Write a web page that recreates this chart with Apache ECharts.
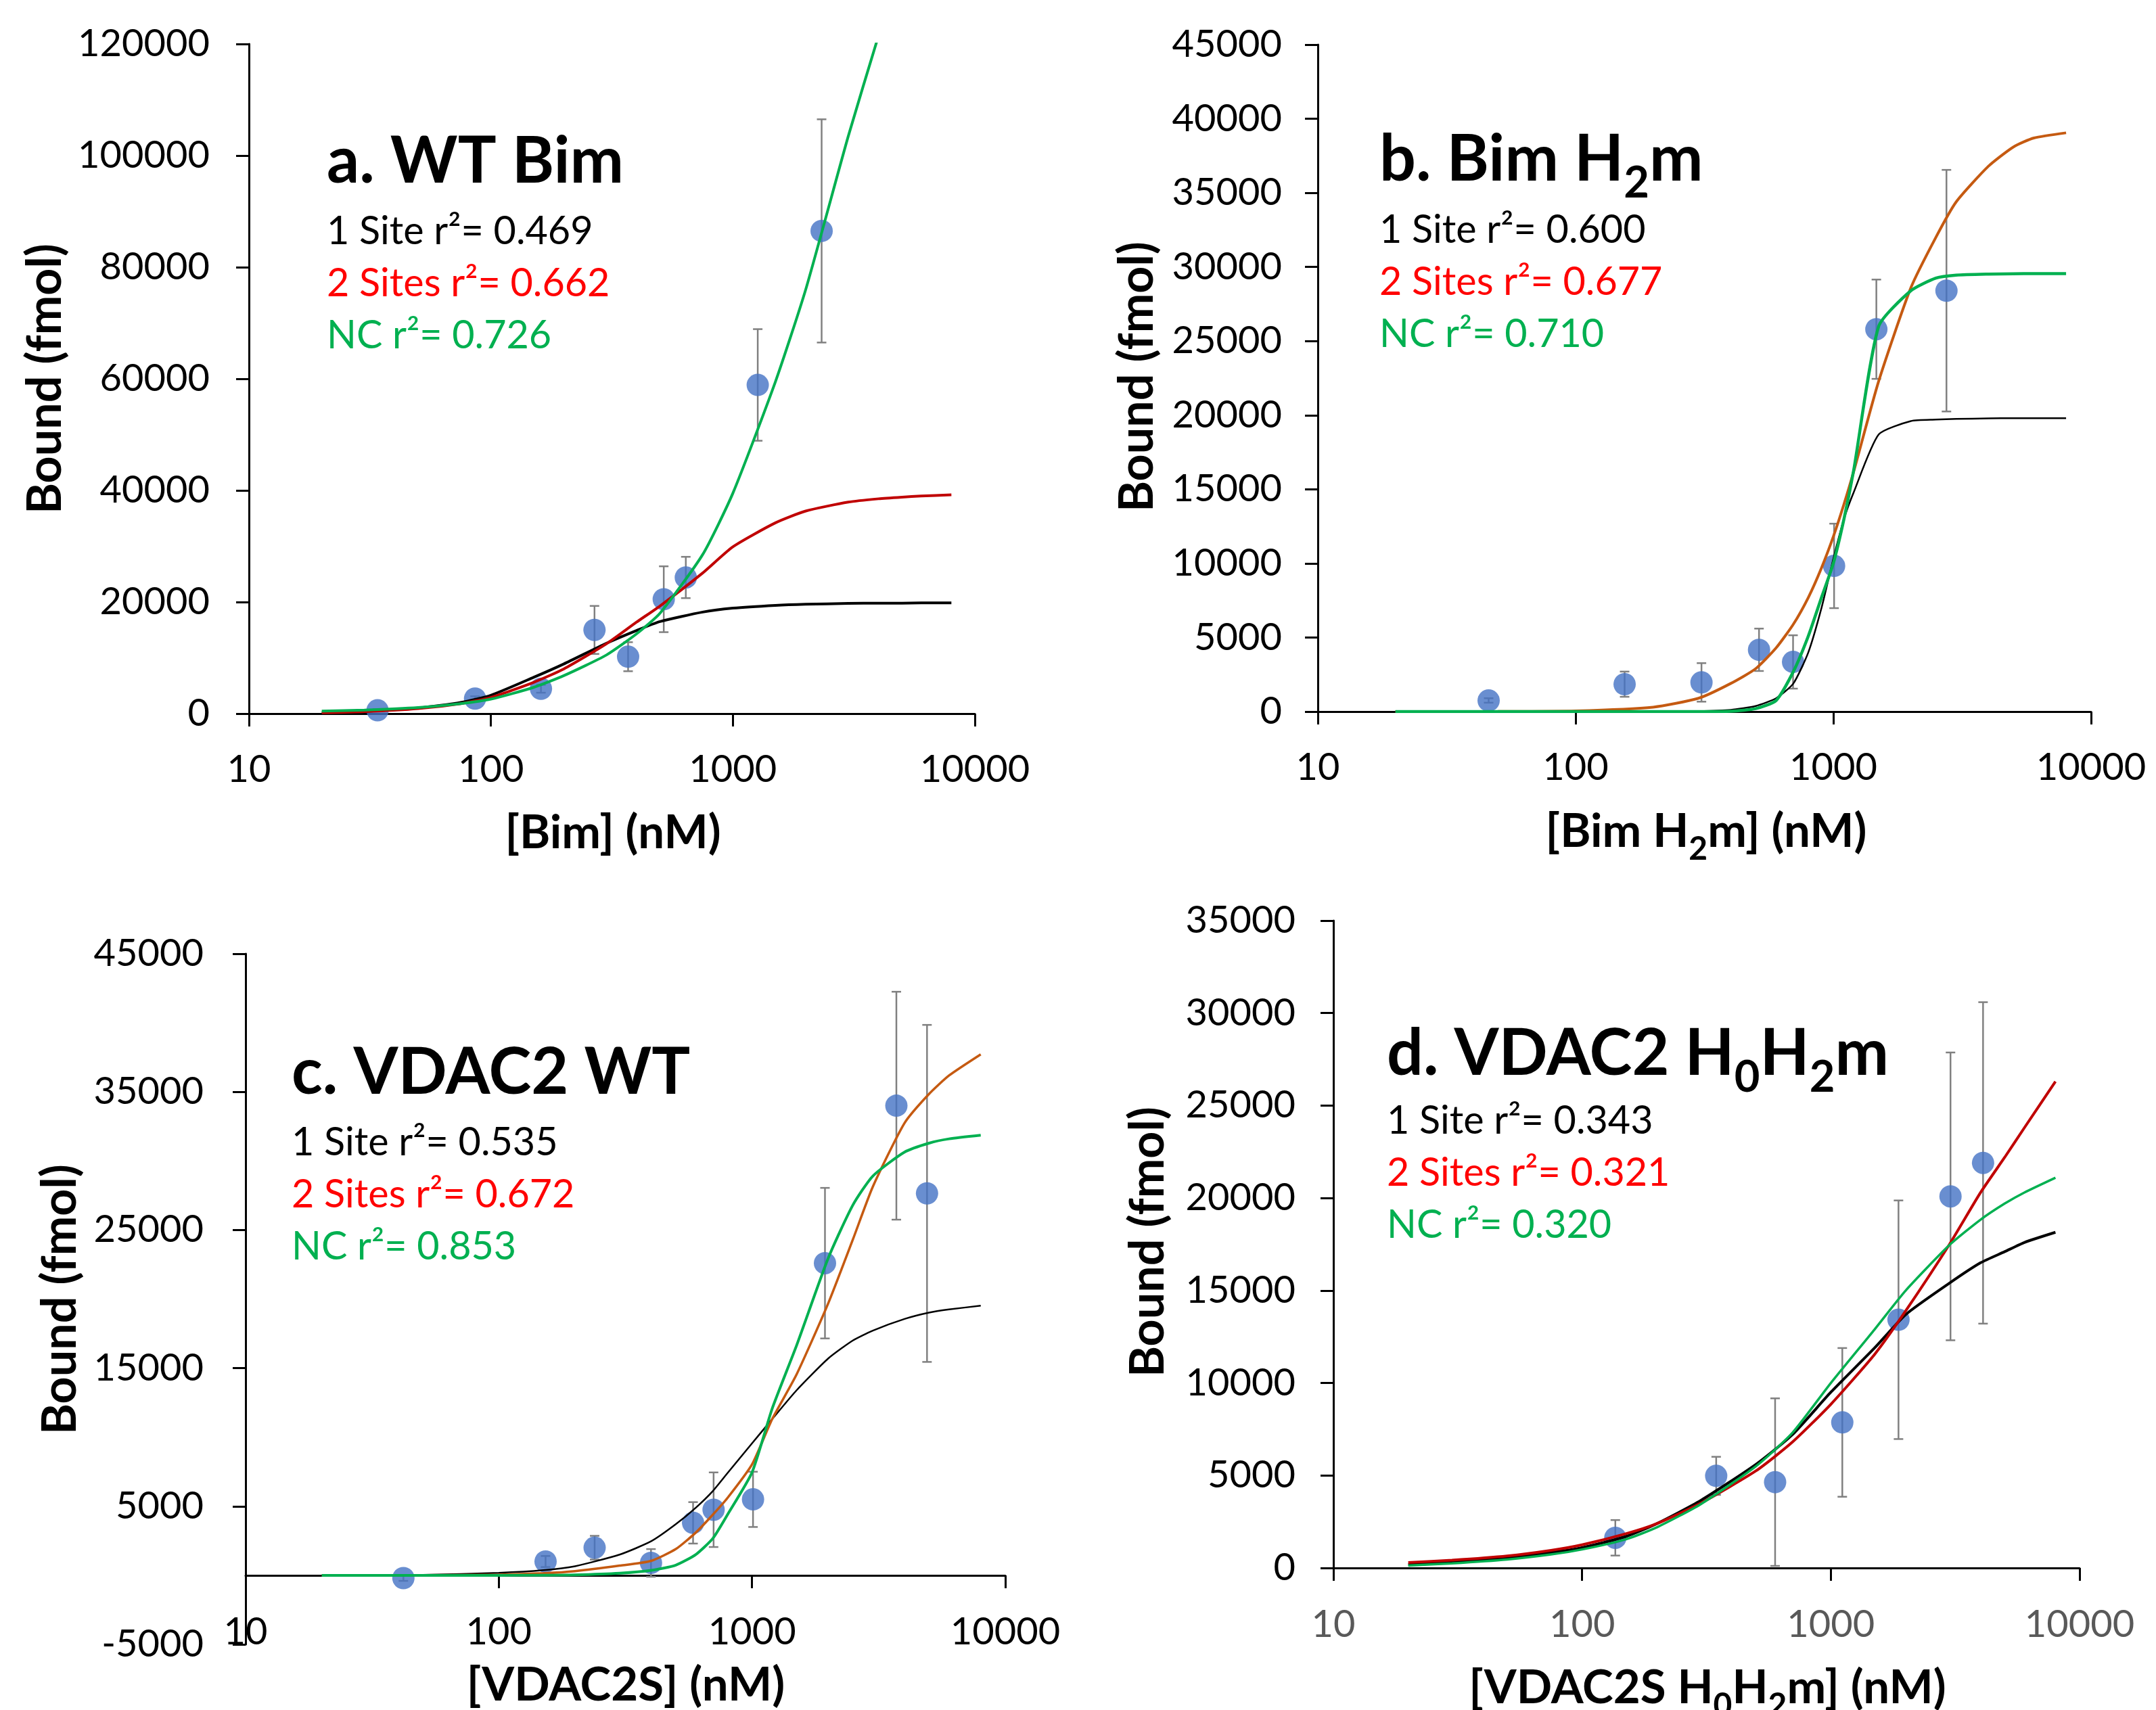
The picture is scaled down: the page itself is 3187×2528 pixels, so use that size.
<!DOCTYPE html>
<html>
<head>
<meta charset="utf-8">
<title>Binding curves</title>
<script src="https://cdn.jsdelivr.net/npm/echarts@6/dist/echarts.min.js"></script>
<style>
  html, body { margin: 0; padding: 0; background: #fff; }
  #chart { width: 3187px; height: 2528px; }
</style>
</head>
<body>
<div id="chart"></div>
<script>
const FONT = 'Lato';

const xTicks = [10, 100, 1000, 10000];
const fitNames = ['1 Site', '2 Sites', 'NC'];

// a. WT Bim
const bimX = [34, 86, 161, 268, 369, 518, 639, 1267, 2327];
const bimY = [600, 2700, 4450, 15000, 10200, 20500, 24400, 58900, 86500];
const bimErr = [200, 400, 700, 4300, 2600, 5900, 3700, 10000, 20000];
const bimFitX = [20, 30, 50, 75, 100, 150, 200, 300, 400, 500, 750, 1000, 1500, 2000, 3000, 4000, 5000, 6000, 8000];
const bimOne = [150, 400, 1000, 2000, 3300, 6500, 8900, 12600, 14900, 16500, 18200, 18900, 19400, 19600, 19750, 19800, 19800, 19850, 19850];
const bimTwo = [150, 350, 900, 1800, 2900, 5600, 8000, 12500, 16400, 19300, 25200, 29900, 34200, 36300, 37900, 38500, 38800, 39000, 39200];
const bimNC = [450, 650, 1100, 1800, 2600, 4700, 6800, 10500, 14300, 18000, 28500, 39500, 59500, 76000, 103500, 121500, null, null, null];
const bimYTicks = [0, 20000, 40000, 60000, 80000, 100000, 120000];
const bimR2 = [0.469, 0.662, 0.726];

// b. Bim H2m
const h2mX = [46, 155, 308, 515, 698, 1007, 1469, 2748];
const h2mY = [750, 1850, 1970, 4170, 3350, 9830, 25800, 28400];
const h2mErr = [150, 850, 1300, 1430, 1800, 2850, 3350, 8150];
const h2mFitX = [20, 50, 100, 200, 300, 400, 500, 600, 700, 800, 900, 1000, 1100, 1200, 1500, 2000, 2500, 3000, 4000, 5000, 6000, 8000];
const h2mOne = [0, 0, 0, 5, 30, 120, 380, 900, 1900, 4000, 7000, 10300, 13000, 14800, 18700, 19600, 19700, 19750, 19780, 19800, 19800, 19800];
const h2mTwo = [0, 10, 50, 300, 900, 1900, 2900, 4300, 5900, 7700, 9700, 11800, 14000, 16200, 22300, 28600, 32000, 34400, 36800, 38100, 38700, 39050];
const h2mNC = [0, 0, 0, 0, 0, 20, 200, 750, 2700, 5100, 7700, 10000, 13000, 16300, 26000, 28400, 29250, 29450, 29520, 29540, 29550, 29550];
const h2mYTicks = [0, 5000, 10000, 15000, 20000, 25000, 30000, 35000, 40000, 45000];
const h2mR2 = [0.600, 0.677, 0.710];

// c. VDAC2 WT
const vdacX = [42, 153, 239, 399, 585, 705, 1009, 1941, 3715, 4909];
const vdacY = [-200, 1000, 2000, 900, 3800, 4750, 5500, 22600, 34000, 27650];
const vdacErr = [200, 400, 860, 1000, 1500, 2700, 2000, 5450, 8250, 12200];
const vdacFitX = [20, 50, 100, 150, 200, 300, 400, 500, 600, 700, 800, 1000, 1200, 1500, 2000, 2500, 3000, 4000, 5000, 6000, 8000];
const vdacOne = [0, 30, 180, 370, 660, 1500, 2470, 3700, 4900, 6100, 7400, 9560, 11300, 13400, 15700, 17000, 17720, 18560, 19020, 19250, 19520];
const vdacTwo = [0, 10, 50, 150, 300, 700, 1050, 1900, 3100, 4390, 5600, 8030, 11300, 14550, 19700, 24300, 28140, 32740, 34850, 36190, 37720];
const vdacNC = [0, 0, 0, 10, 30, 150, 360, 740, 1510, 2670, 4390, 7450, 12050, 16650, 22970, 26800, 28910, 30640, 31290, 31600, 31860];
const vdacYTicks = [-5000, 5000, 15000, 25000, 35000, 45000];
const vdacR2 = [0.535, 0.672, 0.853];

// d. VDAC2 H0H2m
const mutX = [136, 346, 597, 1112, 1871, 3028, 4093];
const mutY = [1630, 4980, 4640, 7870, 13420, 20090, 21900];
const mutErr = [960, 1030, 4530, 4020, 6450, 7780, 8690];
const mutFitX = [20, 30, 50, 75, 100, 150, 200, 300, 500, 700, 1000, 1500, 2000, 3000, 4000, 5000, 6000, 8000];
const mutOne = [180, 320, 560, 830, 1100, 1700, 2400, 3650, 5600, 7200, 9500, 11900, 13700, 15400, 16500, 17100, 17600, 18150];
const mutTwo = [290, 420, 650, 950, 1250, 1850, 2400, 3500, 5250, 6800, 8850, 11550, 13900, 17500, 20300, 22200, 23800, 26300];
const mutNC = [130, 250, 460, 730, 1000, 1550, 2200, 3450, 5500, 7300, 10000, 12900, 15000, 17460, 18830, 19700, 20300, 21100];
const mutYTicks = [0, 5000, 10000, 15000, 20000, 25000, 30000, 35000];
const mutR2 = [0.343, 0.321, 0.320];

const panels = [
  {
    rect: [368, 65, 1073, 990], yTicks: bimYTicks, yMargin: 58, xMargin: 55,
    x: bimX, y: bimY, err: bimErr, fitX: bimFitX, fits: [bimOne, bimTwo, bimNC],
    colors: ['#000000', '#C00000', '#00B050'], widths: [4, 4, 4], r2: bimR2,
    title: '{t|a. WT Bim}', titlePos: [483, 184], linesPos: [483, 304],
    xName: '{b|[Bim] (nM)}', xNamePos: [906, 1232], yNamePos: [67, 560], xLabelColor: '#000'
  },
  {
    rect: [1948, 66, 1143, 986], yTicks: h2mYTicks, yMargin: 53, xMargin: 55,
    x: h2mX, y: h2mY, err: h2mErr, fitX: h2mFitX, fits: [h2mOne, h2mTwo, h2mNC],
    colors: ['#000000', '#C55A11', '#00B050'], widths: [2.5, 4, 4.5], r2: h2mR2,
    title: '{t|b. Bim H}{ts|2}{t|m}', titlePos: [2039, 181], linesPos: [2039, 302],
    xName: '{b|[Bim H}{bs|2}{b|m] (nM)}', xNamePos: [2522, 1230], yNamePos: [1681, 557], xLabelColor: '#000'
  },
  {
    rect: [363, 1410, 1123, 1021], yTicks: vdacYTicks, yMargin: 62, xMargin: -46,
    x: vdacX, y: vdacY, err: vdacErr, fitX: vdacFitX, fits: [vdacOne, vdacTwo, vdacNC],
    colors: ['#000000', '#C55A11', '#00B050'], widths: [2.5, 3.5, 4], r2: vdacR2,
    title: '{t|c. VDAC2 WT}', titlePos: [431, 1531], linesPos: [431, 1651],
    xName: '{b|[VDAC2S] (nM)}', xNamePos: [925, 2492], yNamePos: [89, 1921], xLabelColor: '#000'
  },
  {
    rect: [1971, 1361, 1103, 957], yTicks: mutYTicks, yMargin: 56, xMargin: 56,
    x: mutX, y: mutY, err: mutErr, fitX: mutFitX, fits: [mutOne, mutTwo, mutNC],
    colors: ['#000000', '#C00000', '#00B050'], widths: [4, 4, 3.5], r2: mutR2,
    title: '{t|d. VDAC2 H}{ts|0}{t|H}{ts|2}{t|m}', titlePos: [2050, 1503], linesPos: [2050, 1619],
    xName: '{b|[VDAC2S H}{bs|0}{b|H}{bs|2}{b|m] (nM)}', xNamePos: [2524, 2496], yNamePos: [1697, 1836], xLabelColor: '#595959'
  }
];

const rich = {
  t: { fontFamily: FONT, fontWeight: 'bold', fontSize: 95, lineHeight: 110, fill: '#000' },
  ts: { fontFamily: FONT, fontWeight: 'bold', fontSize: 65, lineHeight: 110, fill: '#000', verticalAlign: 'top', padding: [58, 0, 0, 0] },
  b: { fontFamily: FONT, fontWeight: 'bold', fontSize: 69, lineHeight: 84, fill: '#000' },
  bs: { fontFamily: FONT, fontWeight: 'bold', fontSize: 48, lineHeight: 84, fill: '#000', verticalAlign: 'top', padding: [44, 0, 0, 0] },
  k: { fontFamily: FONT, fontSize: 57.5, lineHeight: 77, fill: '#000000' },
  r: { fontFamily: FONT, fontSize: 57.5, lineHeight: 77, fill: '#FF0000' },
  g: { fontFamily: FONT, fontSize: 57.5, lineHeight: 77, fill: '#00B050' }
};

const yNameRich = { b: Object.assign({}, rich.b, { fontSize: 70 }) };

const axisLine = { show: true, onZero: true, lineStyle: { color: '#000', width: 3 } };
const axisTick = { show: true, inside: false, length: 19, lineStyle: { color: '#000', width: 3 } };

function errorBars(i, p) {
  return {
    type: 'custom', xAxisIndex: i, yAxisIndex: i, silent: true, z: 1,
    data: p.x.map((x, j) => [x, p.y[j] - p.err[j], p.y[j] + p.err[j]]),
    encode: { x: 0, y: [1, 2] },
    renderItem(params, api) {
      const lo = api.coord([api.value(0), api.value(1)]);
      const hi = api.coord([api.value(0), api.value(2)]);
      const style = { stroke: '#808080', lineWidth: 2.5 };
      const cap = 7;
      return {
        type: 'group',
        children: [
          { type: 'line', shape: { x1: lo[0], y1: lo[1], x2: hi[0], y2: hi[1] }, style },
          { type: 'line', shape: { x1: lo[0] - cap, y1: lo[1], x2: lo[0] + cap, y2: lo[1] }, style },
          { type: 'line', shape: { x1: hi[0] - cap, y1: hi[1], x2: hi[0] + cap, y2: hi[1] }, style }
        ]
      };
    }
  };
}

const option = {
  animation: false,
  backgroundColor: '#fff',
  grid: panels.map(p => ({ left: p.rect[0], top: p.rect[1], width: p.rect[2], height: p.rect[3], containLabel: false })),
  xAxis: panels.map((p, i) => ({
    type: 'log', logBase: 10, gridIndex: i,
    min: xTicks[0], max: xTicks[xTicks.length - 1],
    axisLine, axisTick, splitLine: { show: false }, minorTick: { show: false },
    axisLabel: {
      margin: p.xMargin, fontFamily: FONT, fontSize: 56, color: p.xLabelColor,
      showMinLabel: true, showMaxLabel: true,
      formatter: v => String(Math.round(v))
    }
  })),
  yAxis: panels.map((p, i) => ({
    type: 'value', gridIndex: i,
    min: p.yTicks[0], max: p.yTicks[p.yTicks.length - 1], interval: p.yTicks[1] - p.yTicks[0],
    axisLine: { show: true, onZero: false, lineStyle: { color: '#000', width: 3 } },
    axisTick, splitLine: { show: false },
    axisLabel: {
      margin: p.yMargin, fontFamily: FONT, fontSize: 56, color: '#000',
      showMinLabel: true, showMaxLabel: true,
      formatter: v => String(v)
    }
  })),
  series: panels.flatMap((p, i) => [
    errorBars(i, p),
    {
      type: 'scatter', xAxisIndex: i, yAxisIndex: i, z: 2,
      symbol: 'circle', symbolSize: 33,
      itemStyle: { color: '#4472C4' },
      data: p.x.map((x, j) => [x, p.y[j]])
    },
    ...p.fits.map((f, k) => ({
      type: 'line', name: fitNames[k], xAxisIndex: i, yAxisIndex: i, z: 3,
      showSymbol: false, smooth: 0.2, clip: true,
      lineStyle: { color: p.colors[k], width: p.widths[k] },
      data: p.fitX.map((x, j) => [x, f[j]])
    }))
  ]),
  graphic: panels.flatMap(p => {
    const lines = ['k', 'r', 'g'].map((s, k) => `{${s}|${fitNames[k]} r²= ${p.r2[k].toFixed(3)}}`).join('\n');
    return [
      { type: 'text', x: p.titlePos[0], y: p.titlePos[1], style: { text: p.title, rich, align: 'left', verticalAlign: 'top' } },
      { type: 'text', x: p.linesPos[0], y: p.linesPos[1], style: { text: lines, rich, align: 'left', verticalAlign: 'top' } },
      { type: 'text', x: p.xNamePos[0], y: p.xNamePos[1], style: { text: p.xName, rich, align: 'center', verticalAlign: 'middle' } },
      { type: 'text', x: p.yNamePos[0], y: p.yNamePos[1], rotation: Math.PI / 2, style: { text: '{b|Bound (fmol)}', rich: yNameRich, align: 'center', verticalAlign: 'middle' } }
    ];
  })
};

const chart = echarts.init(document.getElementById('chart'), null, { renderer: 'canvas' });
chart.setOption(option);
</script>
</body>
</html>
